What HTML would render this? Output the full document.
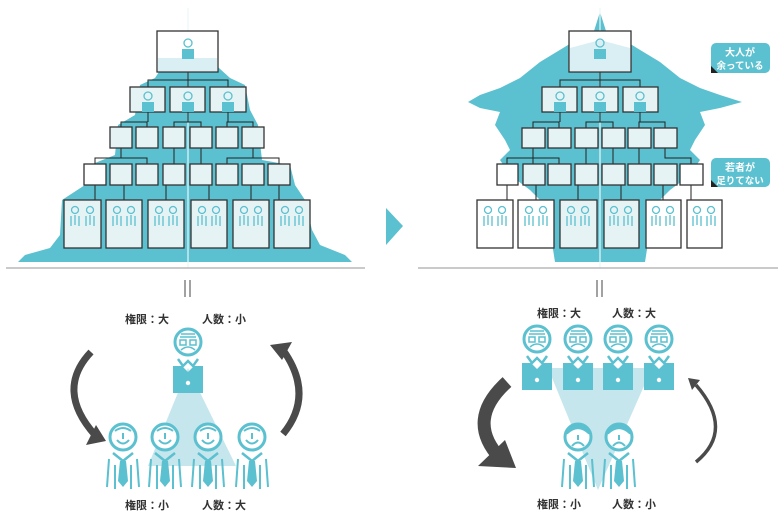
<!DOCTYPE html>
<html><head><meta charset="utf-8"><style>
html,body{margin:0;padding:0;background:#fff;}
svg{display:block}
text{font-family:"Liberation Sans","Noto Sans CJK JP",sans-serif;}
</style></head><body>
<svg width="784" height="521" viewBox="0 0 784 521" xmlns="http://www.w3.org/2000/svg">
<defs>
<g id="mini"><circle cx="0" cy="0" r="3.5" fill="none" stroke="#5bc0cf" stroke-width="1.3"/><path d="M-4 6 L-4 16 M4 6 L4 16 M0 5 L0 15" stroke="#5bc0cf" stroke-width="1.3"/></g>
<g id="miniboss"><circle cx="0" cy="0" r="4" fill="none" stroke="#5bc0cf" stroke-width="1.3"/><rect x="-6" y="6" width="12" height="10" fill="#5bc0cf"/></g>
<g id="worker">
<circle cx="0" cy="0" r="13" fill="#fff" stroke="#5bc0cf" stroke-width="3"/>
<path d="M-8 -6 Q0 -12 8 -6" stroke="#5bc0cf" stroke-width="2" fill="none"/>
<path d="M0 -4 L0 2 M-6 3 Q0 10 6 3" stroke="#5bc0cf" stroke-width="2" fill="none"/>
<path d="M-10 16 L0 24 L10 16" stroke="#5bc0cf" stroke-width="2.5" fill="none"/>
<polygon points="-3,24 3,24 5,44 0,50 -5,44" fill="#5bc0cf"/>
<path d="M-14 22 L-16 50 M14 22 L16 50 M-8 28 L-8 52 M8 28 L8 52" stroke="#5bc0cf" stroke-width="2"/>
</g>
<g id="sad">
<circle cx="0" cy="0" r="13" fill="#fff" stroke="#5bc0cf" stroke-width="3"/>
<path d="M-12 -4 Q0 -16 12 -4" stroke="#5bc0cf" stroke-width="4" fill="none"/>
<path d="M0 -2 L0 3 M-6 9 Q0 2 6 9" stroke="#5bc0cf" stroke-width="2" fill="none"/>
<path d="M-10 16 L0 24 L10 16" stroke="#5bc0cf" stroke-width="2.5" fill="none"/>
<polygon points="-3,24 3,24 5,44 0,50 -5,44" fill="#5bc0cf"/>
<path d="M-14 22 L-16 50 M14 22 L16 50 M-8 28 L-8 52 M8 28 L8 52" stroke="#5bc0cf" stroke-width="2"/>
</g>
<g id="boss">
<circle cx="0" cy="0" r="13" fill="#fff" stroke="#5bc0cf" stroke-width="3"/>
<path d="M-7 -8 L7 -8 M-8 -5 L8 -5 M-8 -2 h6 v5 h-6z M2 -2 h6 v5 h-6z M-7 8 Q0 2 7 8" stroke="#5bc0cf" stroke-width="1.5" fill="none"/>
<path d="M-10 17 L-5 24 L0 19 L5 24 L10 17" stroke="#5bc0cf" stroke-width="2.5" fill="none"/>
<polygon points="-15,24 -6,24 0,30 6,24 15,24 15,51 -15,51" fill="#5bc0cf"/>
<circle cx="0" cy="41" r="2.2" fill="#fff"/>
</g>
</defs>

<!-- LEFT pyramid -->
<polygon fill="#5bc0cf" points="168,58 208,58 230,78 245,85 250,110 258,125 262,160 290,165 295,185 305,200 312,230 320,245 345,255 352,262 18,262 25,255 50,248 60,235 62,200 85,185 90,165 115,155 118,125 135,115 140,85 155,78"/>
<line x1="188" y1="8" x2="188" y2="268" stroke="#e8f6f8" stroke-width="1.2"/>
<line x1="6" y1="268" x2="365" y2="268" stroke="#aaa" stroke-width="1.2"/>
<g stroke="#222" stroke-width="1" fill="none">
<path d="M188 72 V80 M148 87 V80 H228 V87 M188 80 V87"/>
<path d="M148 112 V122 M121 127 V122 H147 V127 M188 112 V122 M174 127 V122 H201 V127 M228 112 V122 M227 127 V122 H253 V127"/>
<path d="M121 148 V158 M95 164 V158 H147 V164 M174 148 V164 M201 148 V164 M253 148 V158 M227 164 V158 H279 V164"/>
<path d="M95 185 V200 M124 185 V200 M166 185 V200 M209 185 V200 M251 185 V200 M279 185 V200"/>
</g>
<g stroke="#333" stroke-width="1.3" fill="#e6f3f5">
<rect x="157" y="31" width="61" height="41" fill="#fff"/>
<rect x="130" y="87" width="35" height="25"/><rect x="170" y="87" width="35" height="25"/><rect x="210" y="87" width="36" height="25"/>
<rect x="110" y="127" width="22" height="21"/><rect x="136" y="127" width="22" height="21"/><rect x="163" y="127" width="22" height="21"/><rect x="190" y="127" width="22" height="21"/><rect x="216" y="127" width="22" height="21"/><rect x="242" y="127" width="22" height="21"/>
<rect x="84" y="164" width="22" height="21" fill="#fff"/><rect x="110" y="164" width="22" height="21"/><rect x="136" y="164" width="22" height="21"/><rect x="163" y="164" width="22" height="21"/><rect x="190" y="164" width="22" height="21"/><rect x="216" y="164" width="22" height="21"/><rect x="242" y="164" width="22" height="21"/><rect x="268" y="164" width="22" height="21"/>
<rect x="64" y="200" width="37" height="48"/><rect x="106" y="200" width="36" height="48"/><rect x="148" y="200" width="36" height="48"/><rect x="191" y="200" width="36" height="48"/><rect x="233" y="200" width="36" height="48"/><rect x="274" y="200" width="36" height="48"/>
</g>
<rect x="158" y="58" width="59" height="13" fill="#d9eff3"/>
<use href="#miniboss" x="188" y="43"/>
<use href="#miniboss" x="148" y="96"/><use href="#miniboss" x="188" y="96"/><use href="#miniboss" x="228" y="96"/>
<use href="#mini" x="75" y="210"/><use href="#mini" x="90" y="210"/><use href="#mini" x="117" y="210"/><use href="#mini" x="131" y="210"/><use href="#mini" x="159" y="210"/><use href="#mini" x="173" y="210"/><use href="#mini" x="202" y="210"/><use href="#mini" x="216" y="210"/><use href="#mini" x="244" y="210"/><use href="#mini" x="258" y="210"/><use href="#mini" x="285" y="210"/><use href="#mini" x="299" y="210"/>

<!-- arrow triangle -->
<polygon points="386,208 403,226 386,245" fill="#5bc0cf"/>

<!-- RIGHT pyramid -->
<polygon fill="#5bc0cf" points="600,12 606,31 632,45 660,62 680,78 700,88 720,95 742,102 720,108 700,112 705,125 695,140 690,150 700,160 690,175 670,190 660,200 650,230 645,262 555,262 550,230 540,200 530,190 510,175 500,160 510,150 505,140 495,125 500,112 480,108 468,102 480,95 500,88 520,78 540,62 568,45 594,31"/>
<line x1="600" y1="8" x2="600" y2="268" stroke="#e8f6f8" stroke-width="1.2"/>
<line x1="418" y1="268" x2="778" y2="268" stroke="#aaa" stroke-width="1.2"/>
<g stroke="#222" stroke-width="1" fill="none">
<path d="M600 72 V80 M560 87 V80 H640 V87 M600 80 V87"/>
<path d="M560 112 V122 M533 128 V122 H559 V128 M600 112 V122 M586 128 V122 H613 V128 M640 112 V122 M639 128 V122 H665 V128"/>
<path d="M533 148 V158 M507 164 V158 H559 V164 M533 158 V164 M586 148 V164 M613 148 V164 M639 148 V164 M665 148 V158 H691 V164"/>
<path d="M507 185 V200 M536 185 V200 M578 185 V200 M621 185 V200 M663 185 V200 M691 185 V200"/>
</g>
<g stroke="#333" stroke-width="1.3" fill="#e6f3f5">
<rect x="569" y="31" width="62" height="41" fill="#fff"/>
<rect x="542" y="87" width="35" height="25"/><rect x="582" y="87" width="36" height="25"/><rect x="623" y="87" width="35" height="25"/>
<rect x="522" y="128" width="23" height="20"/><rect x="548" y="128" width="23" height="20"/><rect x="575" y="128" width="23" height="20"/><rect x="602" y="128" width="23" height="20"/><rect x="628" y="128" width="23" height="20"/><rect x="654" y="128" width="23" height="20"/>
<rect x="497" y="164" width="21" height="21" fill="#fff"/><rect x="523" y="164" width="22" height="21"/><rect x="548" y="164" width="23" height="21"/><rect x="575" y="164" width="23" height="21"/><rect x="602" y="164" width="23" height="21"/><rect x="628" y="164" width="23" height="21"/><rect x="654" y="164" width="23" height="21"/><rect x="680" y="164" width="23" height="21" fill="#fff"/>
<rect x="477" y="200" width="36" height="48" fill="#fff"/><rect x="518" y="200" width="36" height="48" fill="#fff"/><rect x="560" y="200" width="37" height="48"/><rect x="604" y="200" width="35" height="48"/><rect x="646" y="200" width="35" height="48" fill="#fff"/><rect x="687" y="200" width="35" height="48" fill="#fff"/>
</g>
<polygon points="570,48 600,40 630,48 630,71 570,71" fill="#d9eff3"/>
<use href="#miniboss" x="600" y="43"/>
<use href="#miniboss" x="560" y="96"/><use href="#miniboss" x="600" y="96"/><use href="#miniboss" x="640" y="96"/>
<use href="#mini" x="488" y="210"/><use href="#mini" x="502" y="210"/><use href="#mini" x="529" y="210"/><use href="#mini" x="543" y="210"/><use href="#mini" x="571" y="210"/><use href="#mini" x="585" y="210"/><use href="#mini" x="614" y="210"/><use href="#mini" x="628" y="210"/><use href="#mini" x="656" y="210"/><use href="#mini" x="670" y="210"/><use href="#mini" x="697" y="210"/><use href="#mini" x="711" y="210"/>

<!-- bubbles -->
<rect x="711" y="43" width="59" height="30" rx="5" fill="#5bc0cf"/>
<polygon points="711,66 718,73 711,73" fill="#222"/>
<text x="740" y="56" font-size="10" font-weight="bold" fill="#fff" text-anchor="middle">大人が</text>
<text x="740" y="69" font-size="9.5" font-weight="bold" fill="#fff" text-anchor="middle">余っている</text>
<rect x="711" y="158" width="59" height="29" rx="5" fill="#5bc0cf"/>
<polygon points="711,180 718,187 711,187" fill="#222"/>
<text x="740" y="171" font-size="10" font-weight="bold" fill="#fff" text-anchor="middle">若者が</text>
<text x="740" y="184" font-size="9.5" font-weight="bold" fill="#fff" text-anchor="middle">足りてない</text>

<!-- equals -->
<path d="M185 280 V297 M190 280 V297 M597 280 V297 M602 280 V297" stroke="#444" stroke-width="1"/>

<!-- LEFT bottom -->
<text x="125" y="323" font-size="11" font-weight="bold" fill="#333">権限：大</text>
<text x="202" y="323" font-size="11" font-weight="bold" fill="#333">人数：小</text>
<polygon points="188,368 148,466 236,466" fill="#c5e6ec"/>
<use href="#boss" x="188" y="342"/>
<use href="#worker" x="123" y="437"/><use href="#worker" x="165" y="437"/><use href="#worker" x="208" y="437"/><use href="#worker" x="252" y="437"/>
<path d="M91 352 Q55 390 95 435" stroke="#4a4a4a" stroke-width="7" fill="none"/>
<polygon points="86,445 106,441 96,425" fill="#4a4a4a"/>
<path d="M283 434 Q315 395 283 350" stroke="#4a4a4a" stroke-width="7" fill="none"/>
<polygon points="270,345 292,342 282,360" fill="#4a4a4a"/>
<text x="125" y="509" font-size="11" font-weight="bold" fill="#333">権限：小</text>
<text x="202" y="509" font-size="11" font-weight="bold" fill="#333">人数：大</text>

<!-- RIGHT bottom -->
<text x="537" y="317" font-size="11" font-weight="bold" fill="#333">権限：大</text>
<text x="612" y="317" font-size="11" font-weight="bold" fill="#333">人数：大</text>
<polygon points="548,368 652,368 598,490" fill="#c5e6ec"/>
<use href="#boss" x="537" y="339"/><use href="#boss" x="578" y="339"/><use href="#boss" x="618" y="339"/><use href="#boss" x="659" y="339"/>
<use href="#sad" x="578" y="437"/><use href="#sad" x="619" y="437"/>
<path d="M507 382 Q465 420 500 458" stroke="#4a4a4a" stroke-width="13" fill="none"/>
<polygon points="478,466 516,468 505,440" fill="#4a4a4a"/>
<path d="M696 462 Q735 430 696 385" stroke="#4a4a4a" stroke-width="3.5" fill="none"/>
<polygon points="688,378 700,380 692,390" fill="#4a4a4a"/>
<text x="537" y="508" font-size="11" font-weight="bold" fill="#333">権限：小</text>
<text x="612" y="508" font-size="11" font-weight="bold" fill="#333">人数：小</text>
</svg>
</body></html>
